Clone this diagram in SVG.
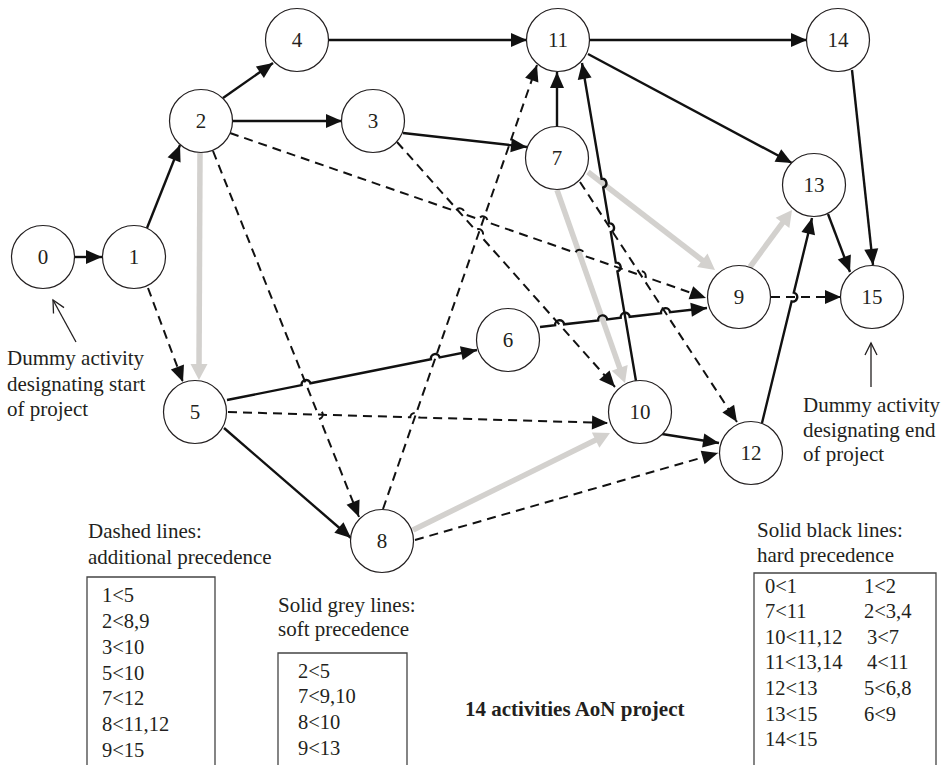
<svg xmlns="http://www.w3.org/2000/svg" width="942" height="765" viewBox="0 0 942 765">
<style>
.node circle{fill:#fff;stroke:#231f20;stroke-width:1.2}
.node text{font-family:"Liberation Serif",serif;font-size:21px;text-anchor:middle;fill:#231f20}
.hard{stroke:#111;stroke-width:2.4;fill:none;marker-end:url(#ah)}
.dash{stroke:#111;stroke-width:2;stroke-dasharray:9 6;fill:none;marker-end:url(#ah)}
.soft{stroke:#d3d1ce;stroke-width:5.5;fill:none;marker-end:url(#ag)}
.ann{stroke:#231f20;stroke-width:1.3;fill:none;marker-end:url(#av)}
.t{font-family:"Liberation Serif",serif;font-size:21px;fill:#231f20}
.e{font-family:"Liberation Serif",serif;font-size:20.5px;fill:#231f20}
.box{fill:none;stroke:#444;stroke-width:1.3}
</style>
<defs>
<marker id="ah" markerUnits="userSpaceOnUse" markerWidth="16" markerHeight="14" refX="16" refY="7" orient="auto" overflow="visible"><path d="M0,0 L16,7 L0,14 z" fill="#111"/></marker>
<marker id="ag" markerUnits="userSpaceOnUse" markerWidth="16" markerHeight="17" refX="4" refY="8.5" orient="auto" overflow="visible"><path d="M0,0 L16,8.5 L0,17 z" fill="#d3d1ce"/></marker>
<marker id="av" markerUnits="userSpaceOnUse" markerWidth="12" markerHeight="12" refX="12" refY="6" orient="auto" overflow="visible"><path d="M0,0 L12,6 L0,12" fill="none" stroke="#231f20" stroke-width="1.3"/></marker>
</defs>
<g id="connectors">
<path class="soft" d="M200,153 L199,368"/>
<path class="soft" d="M588,172 L705.5,262.7"/>
<path class="soft" d="M557,190 L621,371.7"/>
<path class="soft" d="M413,530 L599.2,438.3"/>
<path class="soft" d="M750,267 L784.9,219.7"/>
<path class="hard" d="M75,257 L102,257"/>
<path class="hard" d="M147,228 L180,145"/>
<path class="hard" d="M223,98 L273,63"/>
<path class="hard" d="M233,121 L342,121"/>
<path class="hard" d="M403,133 L527,147"/>
<path class="hard" d="M329,40 L527,40"/>
<path class="hard" d="M227,400 L301.6,385.1 A4.5,4.5 0 0 1 310.4,383.3 L430.9,359.2 A4.5,4.5 0 0 1 439.7,357.4 L477,350"/>
<path class="hard" d="M224,428 L351,538"/>
<path class="hard" d="M540,327 L555.1,325.3 A4.5,4.5 0 0 1 564.1,324.3 L598.2,320.4 A4.5,4.5 0 0 1 607.2,319.4 L620.7,317.8 A4.5,4.5 0 0 1 629.7,316.8 L661,313.2 A4.5,4.5 0 0 1 670,312.2 L707,308"/>
<path class="hard" d="M557,127 L557,72"/>
<path class="hard" d="M636,381 L617.4,271.4 A4.5,4.5 0 0 0 615.8,262.6 L610.8,232.2 A4.5,4.5 0 0 0 609.2,223.4 L603.2,187.5 A4.5,4.5 0 0 0 601.6,178.7 L582,63"/>
<path class="hard" d="M662,434 L719,443"/>
<path class="hard" d="M588,54 L792,163"/>
<path class="hard" d="M590,40 L807,40"/>
<path class="hard" d="M762,423 L791.6,301.4 A4.5,4.5 0 0 0 793.8,292.6 L812,218"/>
<path class="hard" d="M828,214 L850,272"/>
<path class="hard" d="M852,70 L873,265"/>
<path class="dash" d="M148,288 L183,382"/>
<path class="dash" d="M213,151 L316.5,410.4 A4.5,4.5 0 0 1 319.9,418.8 L359,517"/>
<path class="dash" d="M230,133 L455.65,211.23 A4.5,4.5 0 0 1 464.15,214.17 L478.75,219.23 A4.5,4.5 0 0 1 487.25,222.17 L575.35,252.73 A4.5,4.5 0 0 1 583.85,255.67 L636.95,274.03 A4.5,4.5 0 0 1 645.45,276.97 L706,298"/>
<path class="dash" d="M397,142 L475.5,230.2 A4.5,4.5 0 0 1 481.5,237 L615,387"/>
<path class="dash" d="M228,412 L410.3,417.3 A4.5,4.5 0 0 1 419.3,417.5 L608,423"/>
<path class="dash" d="M580,182 L737,422"/>
<path class="dash" d="M383,509 L537,65"/>
<path class="dash" d="M415,540 L718,453"/>
<path class="dash" d="M771,297 L841,297"/>
<path class="ann" d="M76,342 L53,300"/>
<path class="ann" d="M871,387 L871,343"/>
</g>
<g id="n0" class="node"><circle cx="43" cy="257" r="31.5"/><text x="43" y="264">0</text></g>
<g id="n1" class="node"><circle cx="134" cy="257" r="31.5"/><text x="134" y="264">1</text></g>
<g id="n2" class="node"><circle cx="201" cy="121" r="31.5"/><text x="201" y="128">2</text></g>
<g id="n3" class="node"><circle cx="373" cy="121" r="31.5"/><text x="373" y="128">3</text></g>
<g id="n4" class="node"><circle cx="297" cy="40" r="31.5"/><text x="297" y="47">4</text></g>
<g id="n5" class="node"><circle cx="195" cy="412" r="31.5"/><text x="195" y="419">5</text></g>
<g id="n6" class="node"><circle cx="508" cy="340" r="31.5"/><text x="508" y="347">6</text></g>
<g id="n7" class="node"><circle cx="557" cy="158" r="31.5"/><text x="557" y="165">7</text></g>
<g id="n8" class="node"><circle cx="382" cy="541" r="31.5"/><text x="382" y="548">8</text></g>
<g id="n9" class="node"><circle cx="739" cy="297" r="31.5"/><text x="739" y="304">9</text></g>
<g id="n10" class="node"><circle cx="640" cy="412" r="31.5"/><text x="640" y="419">10</text></g>
<g id="n11" class="node"><circle cx="558" cy="40" r="31.5"/><text x="558" y="47">11</text></g>
<g id="n12" class="node"><circle cx="751" cy="453" r="31.5"/><text x="751" y="460">12</text></g>
<g id="n13" class="node"><circle cx="814" cy="185" r="31.5"/><text x="814" y="192">13</text></g>
<g id="n14" class="node"><circle cx="838" cy="40" r="31.5"/><text x="838" y="47">14</text></g>
<g id="n15" class="node"><circle cx="872" cy="297" r="31.5"/><text x="872" y="304">15</text></g>
<g id="start-note">
<text class="t" x="7" y="365">Dummy activity</text>
<text class="t" x="7" y="391">designating start</text>
<text class="t" x="7" y="416">of project</text>
</g>
<g id="end-note">
<text class="t" x="803" y="412">Dummy activity</text>
<text class="t" x="803" y="437">designating end</text>
<text class="t" x="803" y="461">of project</text>
</g>
<g id="legend-dashed">
<text class="t" x="88" y="538">Dashed lines:</text>
<text class="t" x="88" y="564">additional precedence</text>
<path class="box" d="M87,767 V577 H215 V767"/>
<text class="e" x="102" y="602">1&lt;5</text>
<text class="e" x="102" y="628">2&lt;8,9</text>
<text class="e" x="102" y="654">3&lt;10</text>
<text class="e" x="102" y="680">5&lt;10</text>
<text class="e" x="102" y="705">7&lt;12</text>
<text class="e" x="102" y="731">8&lt;11,12</text>
<text class="e" x="102" y="757">9&lt;15</text>
</g>
<g id="legend-grey">
<text class="t" x="278" y="612">Solid grey lines:</text>
<text class="t" x="278" y="636">soft precedence</text>
<path class="box" d="M278,767 V653 H407 V767"/>
<text class="e" x="298" y="678">2&lt;5</text>
<text class="e" x="298" y="703">7&lt;9,10</text>
<text class="e" x="298" y="729">8&lt;10</text>
<text class="e" x="298" y="755">9&lt;13</text>
</g>
<g id="legend-black">
<text class="t" x="757" y="537">Solid black lines:</text>
<text class="t" x="757" y="562">hard precedence</text>
<path class="box" d="M754,767 V573 H936 V767"/>
<text class="e" x="765" y="593">0&lt;1</text>
<text class="e" x="864" y="593">1&lt;2</text>
<text class="e" x="765" y="618">7&lt;11</text>
<text class="e" x="864" y="618">2&lt;3,4</text>
<text class="e" x="765" y="644">10&lt;11,12</text>
<text class="e" x="867" y="644">3&lt;7</text>
<text class="e" x="765" y="669">11&lt;13,14</text>
<text class="e" x="867" y="669">4&lt;11</text>
<text class="e" x="765" y="695">12&lt;13</text>
<text class="e" x="864" y="695">5&lt;6,8</text>
<text class="e" x="765" y="721">13&lt;15</text>
<text class="e" x="864" y="721">6&lt;9</text>
<text class="e" x="765" y="746">14&lt;15</text>
</g>
<text x="465" y="716" font-family="Liberation Serif, serif" font-size="21" font-weight="bold" fill="#231f20">14 activities AoN project</text>
</svg>
